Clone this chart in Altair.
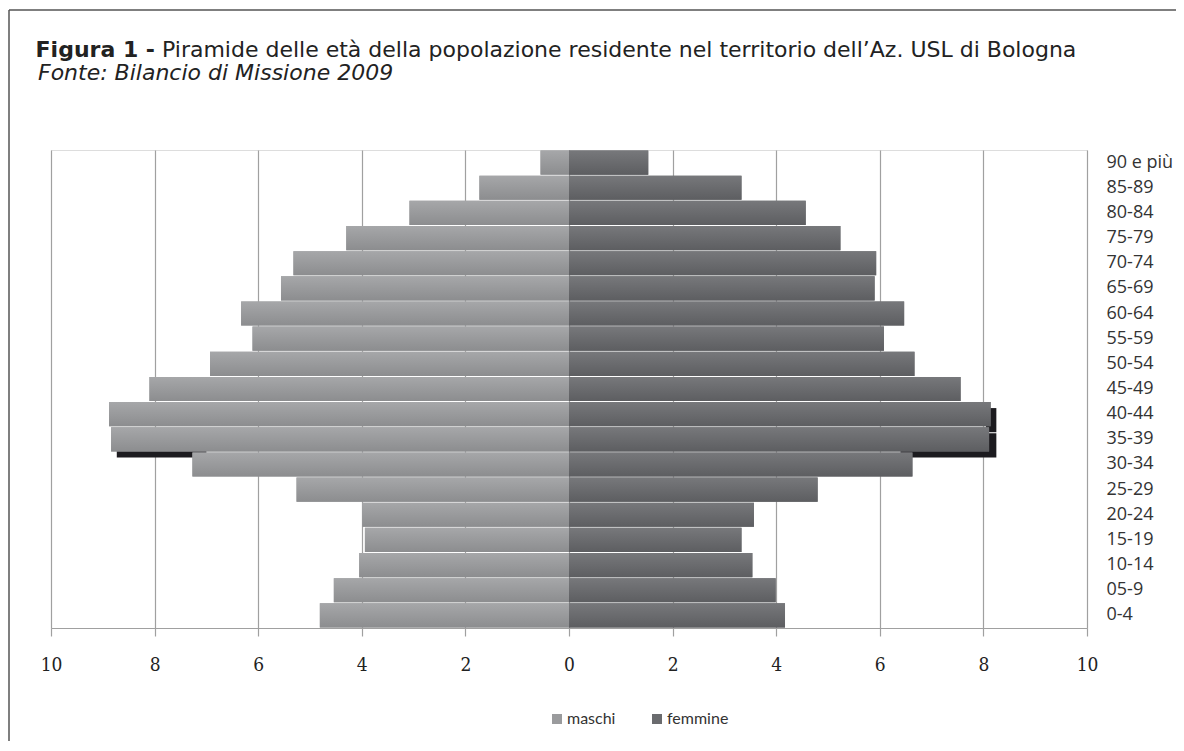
import altair as alt
import pandas as pd

# ---- data ----
eta = ["90 e più", "85-89", "80-84", "75-79", "70-74", "65-69", "60-64", "55-59",
       "50-54", "45-49", "40-44", "35-39", "30-34", "25-29", "20-24", "15-19",
       "10-14", "05-9", "0-4"]
maschi = [0.55, 1.73, 3.08, 4.30, 5.32, 5.56, 6.33, 6.11, 6.93, 8.10, 8.88, 8.84,
          7.27, 5.26, 3.99, 3.94, 4.05, 4.54, 4.81]
femmine = [1.53, 3.33, 4.57, 5.24, 5.93, 5.90, 6.47, 6.08, 6.67, 7.56, 8.14, 8.11,
           6.63, 4.80, 3.57, 3.33, 3.54, 3.99, 4.17]
serie = ["maschi", "femmine"]
tick_values = [-10, -8, -6, -4, -2, 0, 2, 4, 6, 8, 10]

# dark "shadow" artefact behind the 35-44 bars in the scanned figure
ombra_eta = ["40-44", "35-39", "35-39"]
ombra_da = [8.05, -8.73, 6.40]
ombra_a = [8.25, -7.00, 8.25]

titolo_bold = "Figura 1 -"
titolo = "Piramide delle età della popolazione residente nel territorio dell’Az. USL di Bologna"
sottotitolo = "Fonte: Bilancio di Missione 2009"

rows = []
for e, m, f in zip(eta, maschi, femmine):
    rows.append({"eta": e, "sesso": "maschi", "valore": -m, "zero": 0})
    rows.append({"eta": e, "sesso": "femmine", "valore": f, "zero": 0})
df = pd.DataFrame(rows)
ombra = pd.DataFrame({"eta": ombra_eta, "da": ombra_da, "a": ombra_a})
one = pd.DataFrame({"k": [0]})

W, H = 1036, 478
PL, PT = 43, 142          # plot origin at page (51, 150)
OX, OY = 8 + PL, 8 + PT

yenc = alt.Y("eta:N", sort=eta,
             scale=alt.Scale(paddingInner=0.04, paddingOuter=0.02),
             axis=alt.Axis(orient="right", title=None, ticks=False, domain=False,
                           grid=False, labelPadding=19, labelFont="Open Sans",
                           labelFontSize=18, labelColor="#333333"))
xscale = alt.Scale(domain=[-10, 10], nice=False, zero=False)
xaxis = alt.Axis(values=tick_values, labelExpr="abs(datum.value)", title=None,
                 grid=True, gridColor="#a0a0a0", gridWidth=1.2,
                 domainColor="#a0a0a0", domainWidth=1.2,
                 tickColor="#a0a0a0", tickSize=8, tickWidth=1.2,
                 labelFlush=False,
                 labelFont="DejaVu Serif Condensed, Liberation Serif", labelFontSize=19,
                 labelColor="#222222", labelPadding=19)

shadow = alt.Chart(ombra).mark_bar(color="#1c1b1f", yOffset=6).encode(
    y=yenc, x=alt.X("da:Q", scale=xscale, axis=xaxis), x2="a:Q")

base = alt.Chart(df).mark_bar().encode(
    y=yenc,
    x=alt.X("valore:Q", scale=xscale, axis=xaxis),
    x2="zero:Q",
    color=alt.Color("sesso:N", sort=serie,
                    scale=alt.Scale(domain=serie, range=["#9a9b9d", "#6a6b6e"]),
                    legend=alt.Legend(title=None, orient="none", legendX=549 - OX,
                                      legendY=711 - OY, direction="horizontal",
                                      padding=0, symbolType="square", symbolSize=100,
                                      symbolStrokeWidth=0, labelFont="Lato",
                                      labelFontSize=16, labelColor="#333333",
                                      labelOffset=2, columnPadding=33)),
)

def grad(c1, c2):
    return alt.Gradient(gradient="linear", x1=0, y1=0, x2=0, y2=1,
                        stops=[alt.GradientStop(color=c1, offset=0),
                               alt.GradientStop(color=c2, offset=1)])

male = alt.Chart(df).transform_filter(alt.datum.sesso == "maschi").mark_bar(
    color=grad("#a6a7a9", "#8c8d8f")).encode(y=yenc, x=alt.X("valore:Q", scale=xscale), x2="zero:Q")
female = alt.Chart(df).transform_filter(alt.datum.sesso == "femmine").mark_bar(
    color=grad("#77787b", "#5d5e61")).encode(y=yenc, x=alt.X("valore:Q", scale=xscale), x2="zero:Q")

t1 = alt.Chart(one).mark_text(align="right", baseline="alphabetic", font="DejaVu Sans",
                              fontSize=22, fontWeight="bold", color="#222222").encode(
    x=alt.value(155 - OX), y=alt.value(57 - OY), text=alt.value(titolo_bold))
t2 = alt.Chart(one).mark_text(align="left", baseline="alphabetic", font="DejaVu Sans",
                              fontSize=22, color="#222222").encode(
    x=alt.value(162 - OX), y=alt.value(57 - OY), text=alt.value(titolo))
t3 = alt.Chart(one).mark_text(align="left", baseline="alphabetic", font="DejaVu Sans",
                              fontSize=22, fontStyle="italic", color="#222222").encode(
    x=alt.value(38 - OX), y=alt.value(80 - OY), text=alt.value(sottotitolo))

frame_top = alt.Chart(one).mark_rule(color="#555555", strokeWidth=1.5).encode(
    x=alt.value(9 - OX), x2=alt.value(1200 - OX), y=alt.value(10 - OY))
frame_left = alt.Chart(one).mark_rule(color="#555555", strokeWidth=1.5).encode(
    x=alt.value(9 - OX), y=alt.value(10 - OY), y2=alt.value(760 - OY))

chart = alt.layer(shadow, base, male, female, t1, t2, t3, frame_top, frame_left).properties(
    width=W, height=H,
    autosize=alt.AutoSizeParams(type="none"),
    padding={"left": PL, "top": PT, "right": 1168 - PL - W, "bottom": 733 - PT - H},
).configure_view(stroke=None).configure(background="white")

chart.save("out.html", embed_options={"renderer": "svg", "actions": False})
